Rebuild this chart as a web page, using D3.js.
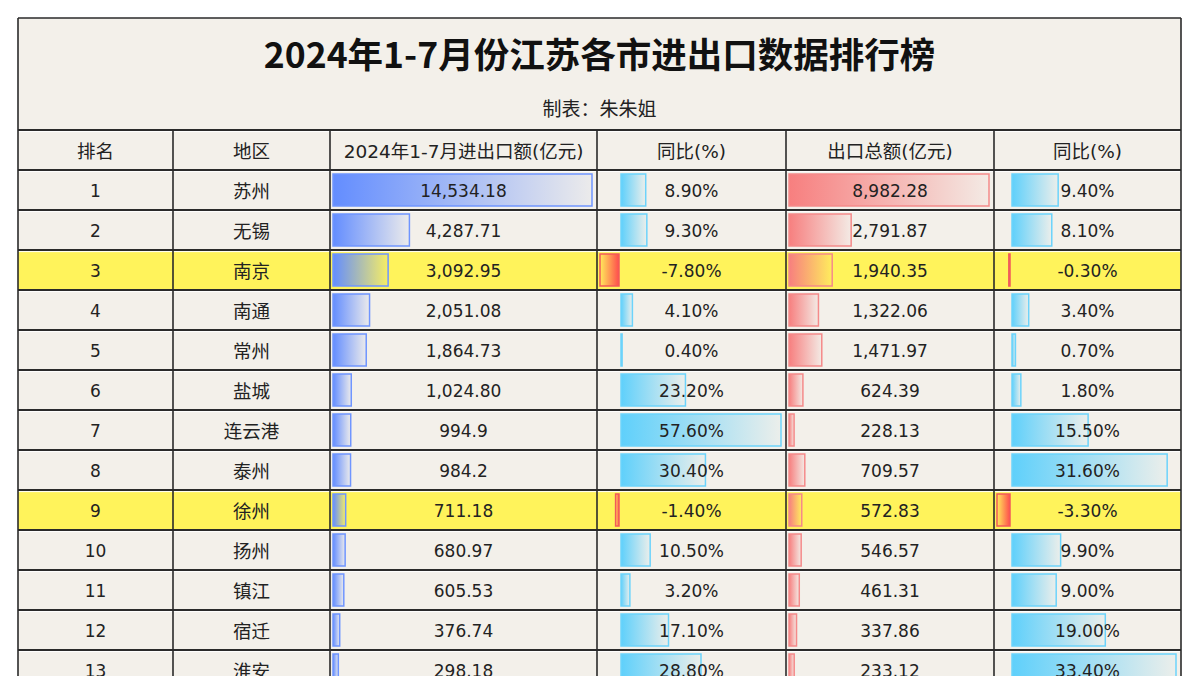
<!DOCTYPE html>
<html><head><meta charset="utf-8">
<script src="https://cdn.jsdelivr.net/npm/d3@7"></script>
<style>
html,body{margin:0;padding:0;background:#fff;}
svg{display:block;}
text{font-family:"DejaVu Sans","Noto Sans CJK SC",sans-serif;fill:#222;}
</style></head>
<body>
<svg id="chart" width="1200" height="676"></svg>
<script>
const titleText = "2024年1-7月份江苏各市进出口数据排行榜";
const subtitleText = "制表：朱朱姐";
const headers = ["排名","地区","2024年1-7月进出口额(亿元)","同比(%)","出口总额(亿元)","同比(%)"];
const ranks = [1,2,3,4,5,6,7,8,9,10,11,12,13];
const cities = ["苏州","无锡","南京","南通","常州","盐城","连云港","泰州","徐州","扬州","镇江","宿迁","淮安"];
const totalValues = [14534.18,4287.71,3092.95,2051.08,1864.73,1024.80,994.9,984.2,711.18,680.97,605.53,376.74,298.18];
const totalLabels = ["14,534.18","4,287.71","3,092.95","2,051.08","1,864.73","1,024.80","994.9","984.2","711.18","680.97","605.53","376.74","298.18"];
const totalYoY = [8.90,9.30,-7.80,4.10,0.40,23.20,57.60,30.40,-1.40,10.50,3.20,17.10,28.80];
const exportValues = [8982.28,2791.87,1940.35,1322.06,1471.97,624.39,228.13,709.57,572.83,546.57,461.31,337.86,233.12];
const exportYoY = [9.40,8.10,-0.30,3.40,0.70,1.80,15.50,31.60,-3.30,9.90,9.00,19.00,33.40];

const svg = d3.select("#chart");
const colEdges = [18,173,330,597,786,994,1181];
const tableTop = 130, headerH = 40, rowH = 40;
const bodyTop = tableTop + headerH;
const y = d3.scaleBand().domain(d3.range(cities.length)).range([bodyTop, bodyTop + rowH*cities.length]).padding(0);
const bottom = bodyTop + rowH*cities.length;

const bg = "#f3f0ea", hi = "#fff35b";

const defs = svg.append("defs");
function grad(id, color, reverse){
  const g = defs.append("linearGradient").attr("id", id).attr("x1", reverse?"100%":"0%").attr("x2", reverse?"0%":"100%").attr("y1","0").attr("y2","0");
  g.append("stop").attr("offset","0%").attr("stop-color",color).attr("stop-opacity",1);
  g.append("stop").attr("offset","100%").attr("stop-color",color).attr("stop-opacity",0.05);
}
grad("gBlue", "#638dff", false);
grad("gCyan", "#5fd0fb", false);
grad("gSalmon", "#f77f7f", false);
grad("gNeg", "#ff4d4d", true);

svg.append("rect").attr("x",colEdges[0]).attr("y",18).attr("width",colEdges[6]-colEdges[0]).attr("height",bottom-18+10).attr("fill",bg);

svg.selectAll("rect.hi").data(d3.range(cities.length).filter(i => totalYoY[i] < 0)).join("rect")
  .attr("class","hi").attr("x",colEdges[0]).attr("y",i=>y(i)).attr("width",colEdges[6]-colEdges[0]).attr("height",rowH).attr("fill",hi);

svg.append("text").attr("x",(colEdges[0]+colEdges[6])/2).attr("y",52).attr("text-anchor","middle").attr("dominant-baseline","central")
  .style("font-family","'Noto Sans CJK SC',sans-serif").style("font-weight","bold").style("font-size","35.5px").style("fill","#111").text(titleText);
svg.append("text").attr("x",(colEdges[0]+colEdges[6])/2).attr("y",107).attr("text-anchor","middle").attr("dominant-baseline","central")
  .style("font-family","'Noto Sans CJK SC',sans-serif").style("font-size","19px").text(subtitleText);

const colCenter = i => (colEdges[i]+colEdges[i+1])/2;
svg.selectAll("text.hdr").data(headers).join("text").attr("class","hdr")
  .attr("x",(d,i)=>colCenter(i)).attr("y",tableTop+headerH/2+1).attr("text-anchor","middle").attr("dominant-baseline","central")
  .style("font-size","18.5px").text(d=>d);

const pad0 = 3, pad1 = 5;
const xTotal = d3.scaleLinear().domain([0,d3.max(totalValues)]).range([colEdges[2]+pad0, colEdges[3]-pad1]);
const xExport = d3.scaleLinear().domain([0,d3.max(exportValues)]).range([colEdges[4]+pad0, colEdges[5]-pad1]);
function yoyScales(vals, c){
  const mn = d3.min(vals), mx = d3.max(vals);
  const a = colEdges[c]+pad0, b = colEdges[c+1]-pad1;
  const axis = Math.round(a + (Math.abs(mn)/(Math.abs(mn)+mx))*(b-a)) - 1;
  return {
    pos: d3.scaleLinear().domain([0,mx]).range([axis, b]),
    neg: d3.scaleLinear().domain([mn,0]).range([a, axis-2])
  };
}
const sTotYoY = yoyScales(totalYoY, 3);
const sExpYoY = yoyScales(exportYoY, 5);

const barInset = 4;
function drawBars(cls, vals, posScale, negScale, posFill, posStroke){
  svg.selectAll("rect."+cls).data(vals).join("rect").attr("class",cls)
    .attr("x",(v)=> v>=0 ? posScale(0) : negScale(v))
    .attr("y",(v,i)=>y(i)+barInset)
    .attr("width",(v)=> Math.max(1, v>=0 ? posScale(v)-posScale(0) : negScale(0)-negScale(v)))
    .attr("height",rowH-barInset*2)
    .attr("fill",v=> v>=0 ? posFill : "url(#gNeg)")
    .attr("stroke",v=> v>=0 ? posStroke : "#f25a5a")
    .attr("stroke-width",1.5);
}
drawBars("bTot", totalValues, xTotal, null, "url(#gBlue)", "#6f95ff");
drawBars("bTotY", totalYoY, sTotYoY.pos, sTotYoY.neg, "url(#gCyan)", "#6cd3fb");
drawBars("bExp", exportValues, xExport, null, "url(#gSalmon)", "#f58a8a");
drawBars("bExpY", exportYoY, sExpYoY.pos, sExpYoY.neg, "url(#gCyan)", "#6cd3fb");

const loc = d3.formatLocale({decimal:".", thousands:",", grouping:[3], currency:["",""], minus:"-"});
const pct = v => loc.format(".2f")(v) + "%";
const fmt = loc.format(",.2f");
const columns = [
  ranks.map(String), cities, totalLabels, totalYoY.map(pct), exportValues.map(fmt), exportYoY.map(pct)
];
columns.forEach((col, c) => {
  svg.selectAll("text.c"+c).data(col).join("text").attr("class","c"+c)
    .attr("x",colCenter(c)).attr("y",(d,i)=>y(i)+rowH/2+1)
    .attr("text-anchor","middle").attr("dominant-baseline","central")
    .style("font-size", c===1 ? "18.5px" : "17px").text(d=>d);
});

const hLines = [tableTop].concat(d3.range(cities.length+1).map(i => bodyTop + i*rowH));
svg.selectAll("line.hw").data(hLines).join("line").attr("class","hw")
  .attr("x1",colEdges[0]).attr("x2",colEdges[6]).attr("y1",d=>d+1.6).attr("y2",d=>d+1.6).attr("stroke","#ffffff").attr("stroke-width",1);
svg.selectAll("line.h").data(hLines).join("line").attr("class","h")
  .attr("x1",colEdges[0]).attr("x2",colEdges[6]).attr("y1",d=>d).attr("y2",d=>d).attr("stroke","#2a2a2a").attr("stroke-width",2);
svg.selectAll("line.v").data(colEdges.slice(1,6)).join("line").attr("class","v")
  .attr("x1",d=>d).attr("x2",d=>d).attr("y1",tableTop).attr("y2",bottom+10).attr("stroke","#2a2a2a").attr("stroke-width",1.6);
svg.append("line").attr("x1",colEdges[0]).attr("x2",colEdges[6]).attr("y1",18).attr("y2",18).attr("stroke","#2a2a2a").attr("stroke-width",1.6);
svg.selectAll("line.o").data([colEdges[0],colEdges[6]]).join("line").attr("class","o")
  .attr("x1",d=>d).attr("x2",d=>d).attr("y1",18).attr("y2",bottom+10).attr("stroke","#2a2a2a").attr("stroke-width",1.6);
</script>
</body></html>
